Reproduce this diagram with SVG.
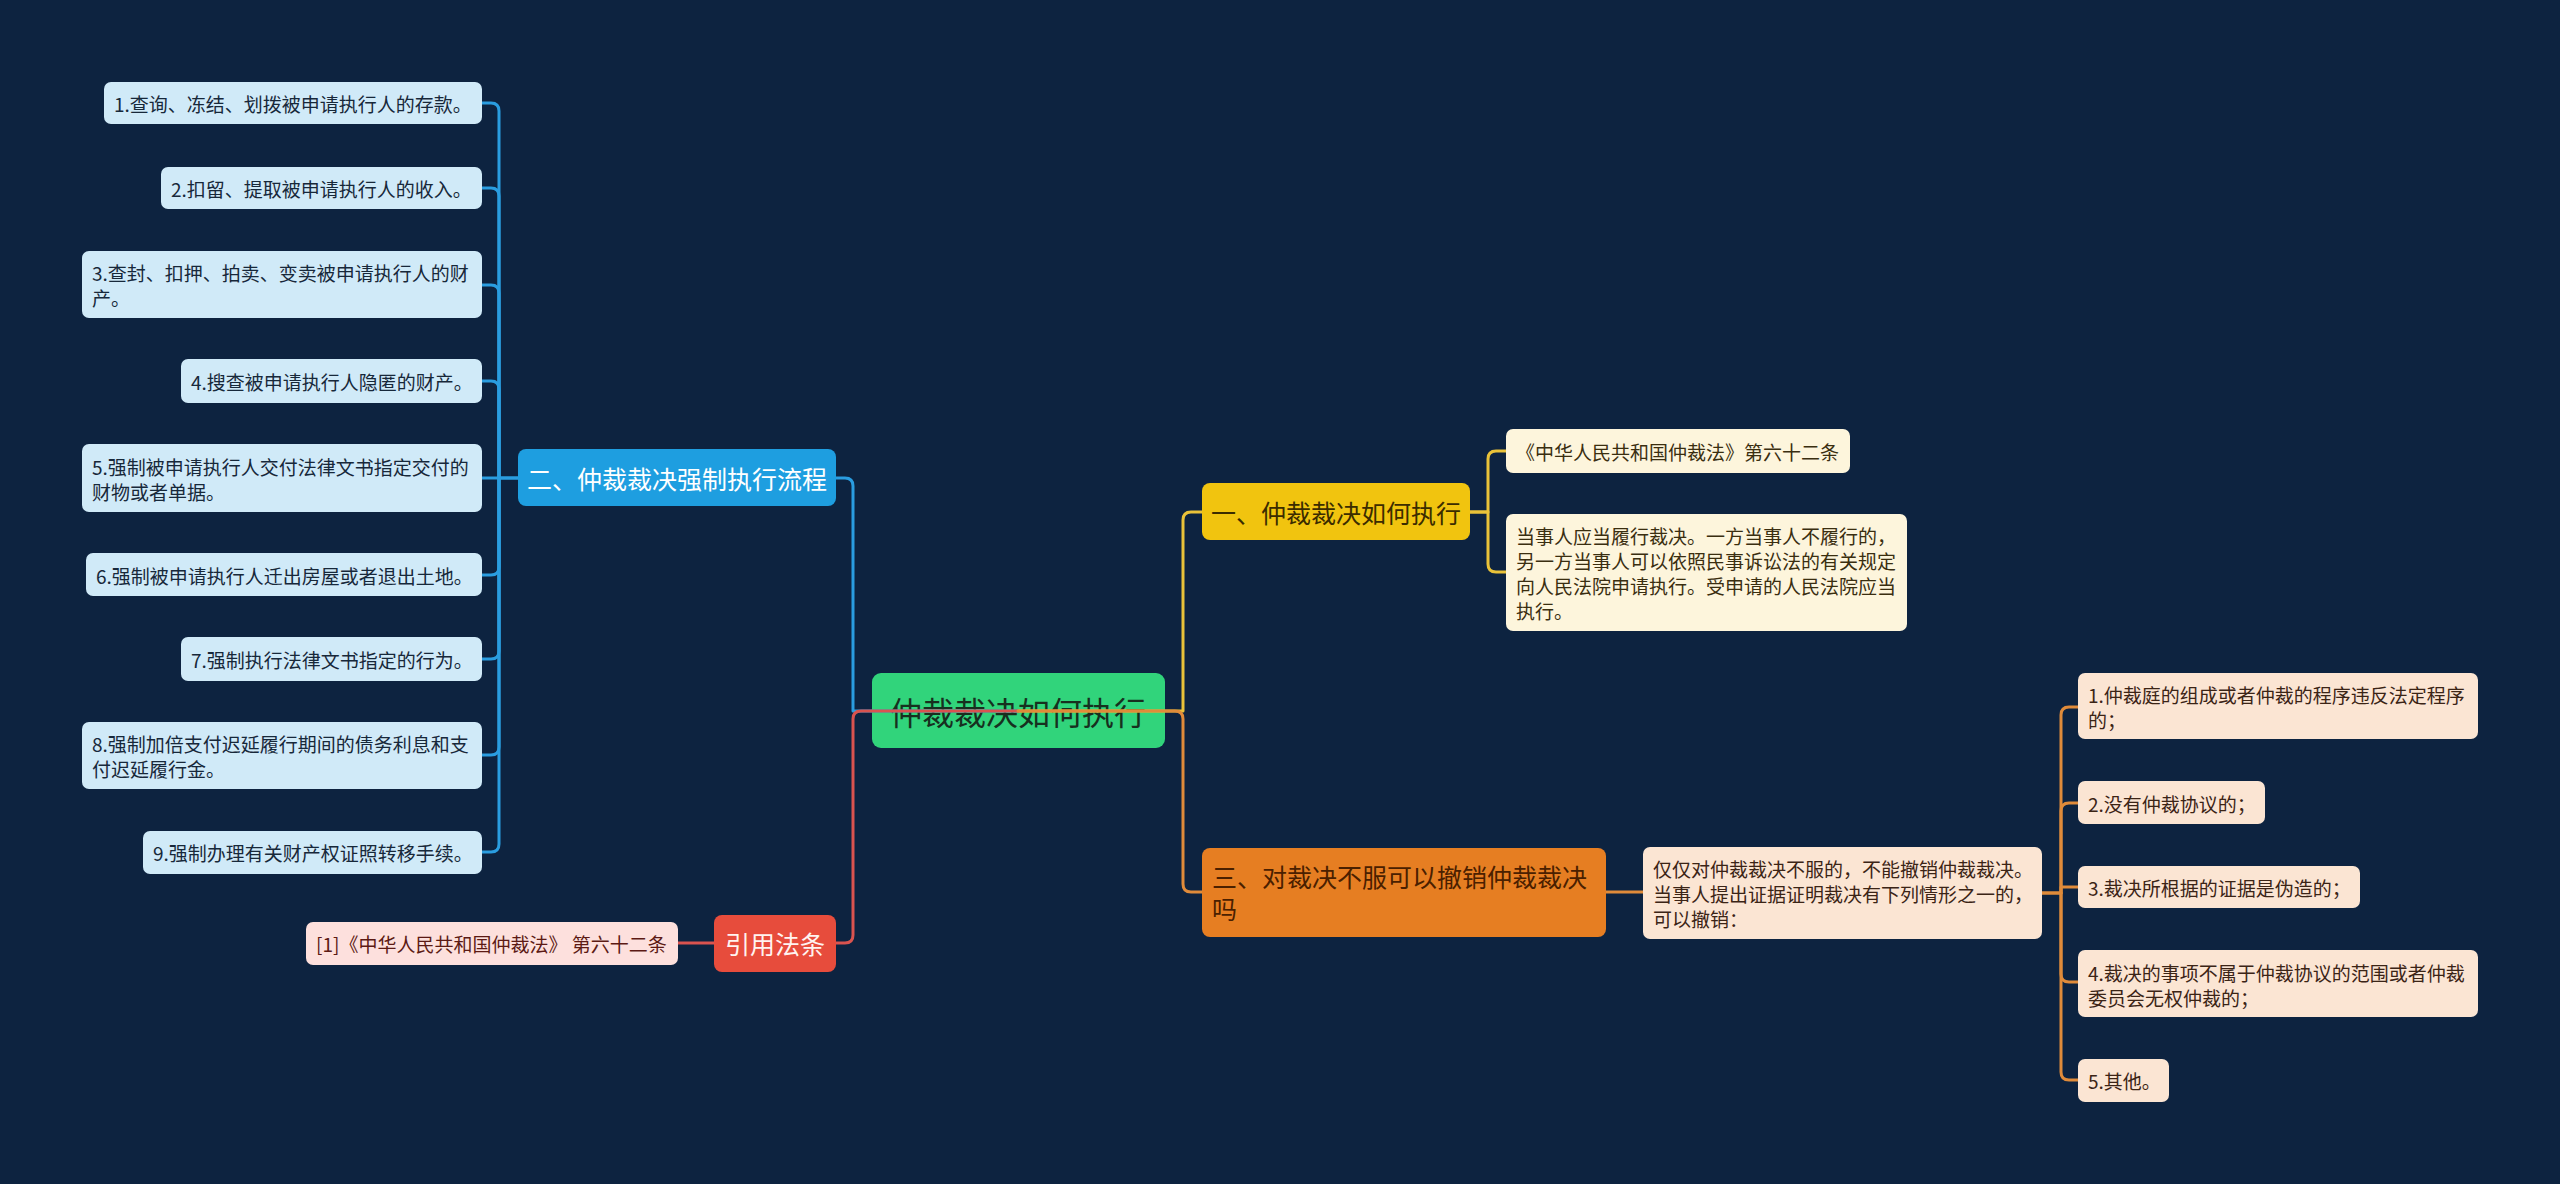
<svg xmlns="http://www.w3.org/2000/svg" width="2560" height="1184" viewBox="0 0 2560 1184">
<style>
text{font-family:"Noto Sans CJK SC","Noto Sans",sans-serif;dominant-baseline:central}
.leaf{font-size:19px}
.br{font-size:25px}
.lb rect{fill:#d0eaf8}.lb text{fill:#17283a}
.ly rect{fill:#fdf5dc}.ly text{fill:#3a2e10}
.lo rect{fill:#fbe5d3}.lo text{fill:#3b2416}
.lr rect{fill:#fde0dd}.lr text{fill:#5c1a14}
.c{fill:none;stroke-width:3;stroke-linecap:round;stroke-linejoin:round}
.cb{stroke:#2a9de0}.cy{stroke:#e9c239}.co{stroke:#e08b3a}.cr{stroke:#d9534f}
</style>
<rect width="2560" height="1184" fill="#0d2340"/>

<g id="root">
<rect x="872" y="673" width="293" height="75" rx="9" fill="#31d47b"/>
<text x="1018" y="711" font-size="32" text-anchor="middle" fill="#17301f">仲裁裁决如何执行</text>
</g>

<g id="connectors">
<path class="c cb" d="M1018,711 H853 V486 Q853,478 845,478 H836"/>
<path class="c cy" d="M1018,711 H1183 V520 Q1183,512 1191,512 H1202"/>
<path class="c cr" d="M1018,711 H861 Q853,711 853,719 V935 Q853,943 845,943 H836"/>
<path class="c co" d="M1018,711 H1175 Q1183,711 1183,719 V884 Q1183,892 1191,892 H1202"/>
<path class="c cb" d="M518,478 H499 V111 Q499,103 491,103 H482"/>
<path class="c cb" d="M499,478 V196 Q499,188 491,188 H482"/>
<path class="c cb" d="M499,478 V293 Q499,285 491,285 H482"/>
<path class="c cb" d="M499,478 V389 Q499,381 491,381 H482"/>
<path class="c cb" d="M518,478 H482"/>
<path class="c cb" d="M499,478 V567 Q499,575 491,575 H482"/>
<path class="c cb" d="M499,478 V651 Q499,659 491,659 H482"/>
<path class="c cb" d="M499,478 V747 Q499,755 491,755 H482"/>
<path class="c cb" d="M499,478 V844 Q499,852 491,852 H482"/>
<path class="c cr" d="M714,943 H678"/>
<path class="c cy" d="M1470,512 H1488 V459 Q1488,451 1496,451 H1506"/>
<path class="c cy" d="M1470,512 H1488 V564 Q1488,572 1496,572 H1506"/>
<path class="c co" d="M1606,892 H1643"/>
<path class="c co" d="M2042,893 H2061 V715 Q2061,707 2069,707 H2078"/>
<path class="c co" d="M2061,893 V811 Q2061,803 2069,803 H2078"/>
<path class="c co" d="M2042,893 H2061 V887 H2078"/>
<path class="c co" d="M2061,893 V974 Q2061,982 2069,982 H2078"/>
<path class="c co" d="M2061,893 V1072 Q2061,1080 2069,1080 H2078"/>
</g>

<g id="b2">
<rect x="518" y="449" width="318" height="57" rx="8" fill="#1e9ee0"/>
<text class="br" x="527" y="478" fill="#ffffff">二、仲裁裁决强制执行流程</text>
</g>
<g id="b2-1" class="lb"><rect x="104" y="82" width="378" height="42" rx="7"/><text class="leaf" x="114" y="103">1.查询、冻结、划拨被申请执行人的存款。</text></g>
<g id="b2-2" class="lb"><rect x="161" y="167" width="321" height="42" rx="7"/><text class="leaf" x="171" y="188">2.扣留、提取被申请执行人的收入。</text></g>
<g id="b2-3" class="lb"><rect x="82" y="251" width="400" height="67" rx="7"/><text class="leaf" x="92" y="272">3.查封、扣押、拍卖、变卖被申请执行人的财</text><text class="leaf" x="92" y="297">产。</text></g>
<g id="b2-4" class="lb"><rect x="181" y="359" width="301" height="44" rx="7"/><text class="leaf" x="191" y="381">4.搜查被申请执行人隐匿的财产。</text></g>
<g id="b2-5" class="lb"><rect x="82" y="444" width="400" height="68" rx="7"/><text class="leaf" x="92" y="466">5.强制被申请执行人交付法律文书指定交付的</text><text class="leaf" x="92" y="491">财物或者单据。</text></g>
<g id="b2-6" class="lb"><rect x="86" y="553" width="396" height="43" rx="7"/><text class="leaf" x="96" y="575">6.强制被申请执行人迁出房屋或者退出土地。</text></g>
<g id="b2-7" class="lb"><rect x="181" y="637" width="301" height="44" rx="7"/><text class="leaf" x="191" y="659">7.强制执行法律文书指定的行为。</text></g>
<g id="b2-8" class="lb"><rect x="82" y="722" width="400" height="67" rx="7"/><text class="leaf" x="92" y="743">8.强制加倍支付迟延履行期间的债务利息和支</text><text class="leaf" x="92" y="768">付迟延履行金。</text></g>
<g id="b2-9" class="lb"><rect x="143" y="831" width="339" height="43" rx="7"/><text class="leaf" x="153" y="852">9.强制办理有关财产权证照转移手续。</text></g>

<g id="ref">
<rect x="714" y="915" width="122" height="57" rx="8" fill="#e74c3c"/>
<text class="br" x="775" y="943" text-anchor="middle" fill="#fff3f0">引用法条</text>
</g>
<g id="ref-1" class="lr"><rect x="306" y="922" width="372" height="43" rx="7"/><text class="leaf" x="316" y="943">[1]《中华人民共和国仲裁法》 第六十二条</text></g>

<g id="b1">
<rect x="1202" y="483" width="268" height="57" rx="8" fill="#f1c40f"/>
<text class="br" x="1211" y="512" fill="#3b2c00">一、仲裁裁决如何执行</text>
</g>
<g id="b1-1" class="ly"><rect x="1506" y="429" width="344" height="44" rx="7"/><text class="leaf" x="1516" y="451">《中华人民共和国仲裁法》第六十二条</text></g>
<g id="b1-2" class="ly"><rect x="1506" y="514" width="401" height="117" rx="7"/>
<text class="leaf" x="1516" y="535">当事人应当履行裁决。一方当事人不履行的，</text>
<text class="leaf" x="1516" y="560">另一方当事人可以依照民事诉讼法的有关规定</text>
<text class="leaf" x="1516" y="585">向人民法院申请执行。受申请的人民法院应当</text>
<text class="leaf" x="1516" y="610">执行。</text></g>

<g id="b3">
<rect x="1202" y="848" width="404" height="89" rx="8" fill="#e67e22"/>
<text class="br" x="1212" y="876" fill="#4a2000">三、对裁决不服可以撤销仲裁裁决</text>
<text class="br" x="1212" y="908" fill="#4a2000">吗</text>
</g>
<g id="b3-1" class="lo"><rect x="1643" y="847" width="399" height="92" rx="7"/>
<text class="leaf" x="1653" y="868">仅仅对仲裁裁决不服的，不能撤销仲裁裁决。</text>
<text class="leaf" x="1653" y="893">当事人提出证据证明裁决有下列情形之一的，</text>
<text class="leaf" x="1653" y="918">可以撤销：</text></g>
<g id="b3-1-1" class="lo"><rect x="2078" y="673" width="400" height="66" rx="7"/><text class="leaf" x="2088" y="694">1.仲裁庭的组成或者仲裁的程序违反法定程序</text><text class="leaf" x="2088" y="719">的；</text></g>
<g id="b3-1-2" class="lo"><rect x="2078" y="781" width="187" height="43" rx="7"/><text class="leaf" x="2088" y="803">2.没有仲裁协议的；</text></g>
<g id="b3-1-3" class="lo"><rect x="2078" y="866" width="282" height="42" rx="7"/><text class="leaf" x="2088" y="887">3.裁决所根据的证据是伪造的；</text></g>
<g id="b3-1-4" class="lo"><rect x="2078" y="950" width="400" height="67" rx="7"/><text class="leaf" x="2088" y="972">4.裁决的事项不属于仲裁协议的范围或者仲裁</text><text class="leaf" x="2088" y="997">委员会无权仲裁的；</text></g>
<g id="b3-1-5" class="lo"><rect x="2078" y="1059" width="91" height="43" rx="7"/><text class="leaf" x="2088" y="1080">5.其他。</text></g>
</svg>
